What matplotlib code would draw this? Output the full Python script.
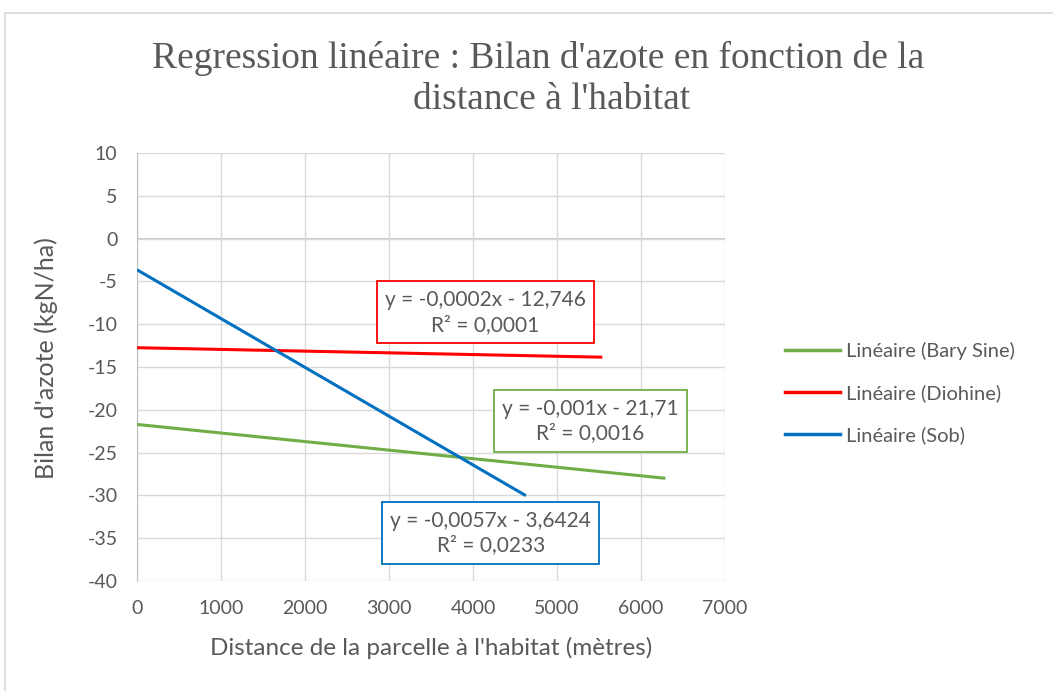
import numpy as np
import matplotlib
matplotlib.use("Agg")
import matplotlib.pyplot as plt
from matplotlib.lines import Line2D

# données : droites de tendance (pente, ordonnée, x max)
series = ["Linéaire (Bary Sine)", "Linéaire (Diohine)", "Linéaire (Sob)"]
slopes = [-0.001, -0.0002, -0.0057]
intercepts = [-21.71, -12.746, -3.6424]
x_max = [6290, 5540, 4630]
colors = ["#70AD47", "#FF0000", "#0070C0"]
eq_text = ["y = -0,001x - 21,71\nR² = 0,0016",
           "y = -0,0002x - 12,746\nR² = 0,0001",
           "y = -0,0057x - 3,6424\nR² = 0,0233"]
eq_pos = [(5400, -21.3), (4150, -8.6), (4210, -34.4)]
xticks = list(range(0, 7001, 1000))
yticks = list(range(-40, 11, 5))

FONT = "Lato"
GRAY = "#595959"
plt.rcParams.update({"font.family": FONT, "axes.unicode_minus": False})

fig = plt.figure(figsize=(10.53, 6.91), dpi=100)
ax = fig.add_axes([137 / 1053, 1 - 581 / 691, 588 / 1053, 428 / 691])

for xm, a, b, c in zip(x_max, slopes, intercepts, colors):
    xs = np.array([0, xm])
    ax.plot(xs, a * xs + b, color=c, lw=2.2, solid_capstyle="butt", zorder=3)

for (x, y), t, c in zip(eq_pos, eq_text, colors):
    ax.text(x, y, t, ha="center", va="center", fontsize=15, color=GRAY,
            linespacing=1.3, zorder=4,
            bbox=dict(boxstyle="square,pad=0.4", fc="white", ec=c, lw=1.3))

ax.set_xlim(0, 7000); ax.set_ylim(-40, 10)
ax.set_xticks(xticks); ax.set_yticks(yticks)
ax.grid(True, color="#D9D9D9", lw=1, zorder=0)
ax.axhline(0, color="#BFBFBF", lw=1.2, zorder=1)
for s in ["top", "right", "bottom"]:
    ax.spines[s].set_visible(False)
ax.spines["left"].set_color("#BFBFBF")
ax.tick_params(length=0, labelsize=14, colors=GRAY, pad=14)
ax.tick_params(axis="x", pad=14)
ax.set_xlabel("Distance de la parcelle à l'habitat (mètres)", fontsize=17.5, color=GRAY, labelpad=14)
ax.set_ylabel("Bilan d'azote (kgN/ha)", fontsize=18, color=GRAY)
ax.yaxis.set_label_coords(-0.135, 0.52)

fig.text(538 / 1053, 1 - 58 / 691, "Regression linéaire : Bilan d'azote en fonction de la",
         ha="center", va="center", fontsize=27, color=GRAY, family="Liberation Serif")
fig.text(552 / 1053, 1 - 100 / 691, "distance à l'habitat", ha="center", va="center",
         fontsize=27, color=GRAY, family="Liberation Serif")

handles = [Line2D([], [], color=c, lw=2.5) for c in colors]
fig.legend(handles, series, loc="center left", bbox_to_anchor=(767 / 1053, 1 - 393 / 691),
           frameon=False, fontsize=14.5, labelcolor=GRAY, handlelength=2.7,
           handletextpad=0.3, labelspacing=1.2)

# cadre extérieur du graphique
fig.add_artist(Line2D([5 / 1053, 1], [1 - 13 / 691] * 2, color="#D9D9D9", lw=1.2))
fig.add_artist(Line2D([5 / 1053] * 2, [0, 1 - 13 / 691], color="#D9D9D9", lw=1.2))

fig.savefig("out.png", dpi=100)
